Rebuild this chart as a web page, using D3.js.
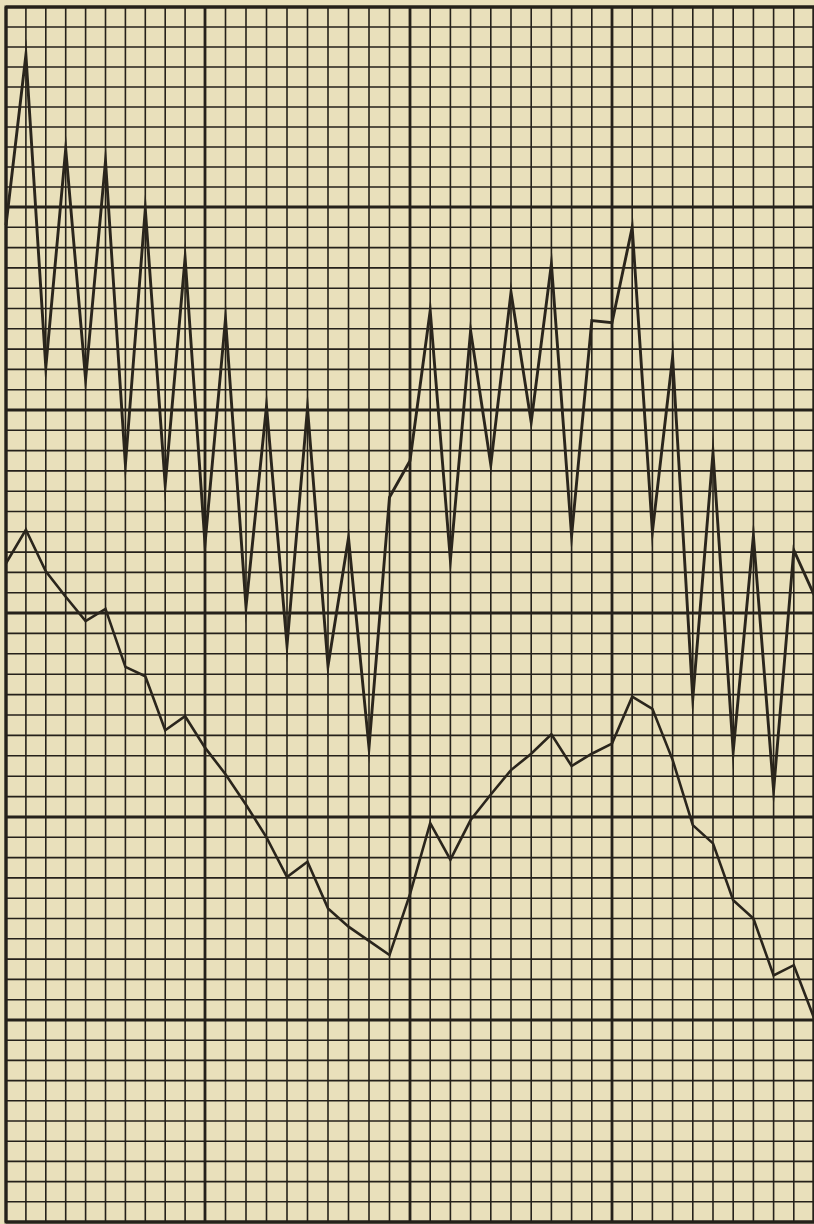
<!DOCTYPE html>
<html>
<head>
<meta charset="utf-8">
<script src="https://cdn.jsdelivr.net/npm/d3@7"></script>
<style>
  html, body { margin: 0; padding: 0; background: #e9e0bb; }
  #chart { width: 814px; height: 1224px; }
</style>
</head>
<body>
<div id="chart"></div>
<script>
// readings, in small squares counted up from the bottom edge of the sheet
const columns = d3.range(0, 41);
const upperSeries = [49.1, 57.6, 42.1, 52.9, 41.5, 52.3, 37.3, 49.9, 36.3, 47.5,
  33.4, 44.5, 30.3, 40.2, 28.4, 40.1, 27.4, 33.7, 23.4, 35.7,
  37.5, 44.9, 32.6, 43.9, 37.3, 45.8, 39.4, 47.2, 33.8, 44.4,
  44.3, 49.0, 34.0, 42.6, 25.8, 37.9, 23.2, 33.8, 21.3, 33.1, 30.9];
const lowerSeries = [32.45, 34.1, 32.05, 30.8, 29.6, 30.2, 27.36, 26.9, 24.25, 24.94,
  23.4, 22.1, 20.6, 19.0, 17.04, 17.8, 15.5, 14.6, 13.9, 13.2,
  16.2, 19.7, 17.9, 19.85, 21.1, 22.3, 23.1, 24.05, 22.5, 23.1,
  23.6, 25.9, 25.3, 22.8, 19.6, 18.7, 15.9, 15.0, 12.2, 12.7, 10.1];
const colCount = 40;
const rowCount = 60;

const width = 814, height = 1224;
const ink = '#25211a';

const svg = d3.select('#chart').append('svg')
  .attr('width', width)
  .attr('height', height);

svg.append('rect')
  .attr('width', width)
  .attr('height', height)
  .attr('fill', '#e9e0bb');

// the printed sheet is not quite even, so the heavy lines anchor a piecewise scale
const x = d3.scaleLinear().domain([0, 10, 20, 30, 40]).range([6, 205, 410, 612, 814]);
const y = d3.scaleLinear().domain([0, 10, 20, 30, 40, 50, 60]).range([1222, 1020, 817, 613, 410, 207, 7]);

// graph paper
const grid = svg.append('g');
grid.selectAll('line.v')
  .data(d3.range(0, colCount + 1))
  .join('line')
  .attr('x1', d => x(d)).attr('x2', d => x(d))
  .attr('y1', y(rowCount)).attr('y2', y(0))
  .attr('stroke', ink)
  .attr('stroke-width', d => d % 10 === 0 ? 2.8 : 1.6);

grid.selectAll('line.h')
  .data(d3.range(0, rowCount + 1))
  .join('line')
  .attr('y1', d => y(d)).attr('y2', d => y(d))
  .attr('x1', x(0)).attr('x2', x(colCount))
  .attr('stroke', ink)
  .attr('stroke-width', d => d % 10 === 0 ? 2.8 : 1.6);

// outer frame
grid.append('rect')
  .attr('x', x(0)).attr('y', y(rowCount))
  .attr('width', x(colCount) - x(0))
  .attr('height', y(0) - y(rowCount))
  .attr('fill', 'none')
  .attr('stroke', ink)
  .attr('stroke-width', 3);

const line = d3.line()
  .x((d, i) => x(columns[i]))
  .y(d => y(d));

svg.append('path')
  .datum(upperSeries)
  .attr('d', line)
  .attr('fill', 'none')
  .attr('stroke', '#2a251c')
  .attr('stroke-width', 2.9)
  .attr('stroke-linejoin', 'miter')
  .attr('stroke-miterlimit', 20);

svg.append('path')
  .datum(lowerSeries)
  .attr('d', line)
  .attr('fill', 'none')
  .attr('stroke', '#2a251c')
  .attr('stroke-width', 2.6)
  .attr('stroke-linejoin', 'miter')
  .attr('stroke-miterlimit', 10);
</script>
</body>
</html>
